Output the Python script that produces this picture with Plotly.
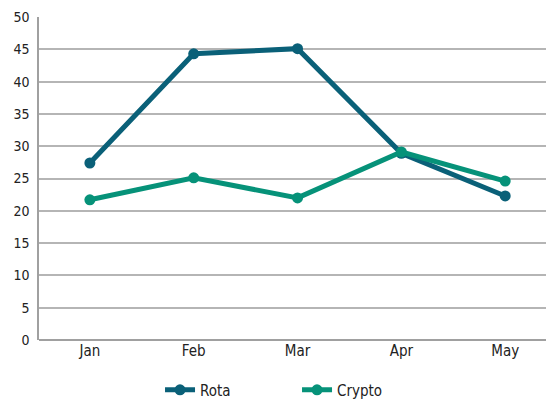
import plotly.graph_objects as go

months = ["Jan", "Feb", "Mar", "Apr", "May"]
rota = [27.4, 44.3, 45.1, 28.9, 22.3]
crypto = [21.7, 25.1, 22.0, 29.1, 24.6]

rota_color = "#0a6078"
crypto_color = "#069279"

fig = go.Figure()
fig.add_trace(go.Scatter(x=months, y=rota, mode="lines+markers", name="Rota",
                         line=dict(color=rota_color, width=5),
                         marker=dict(size=11, color=rota_color)))
fig.add_trace(go.Scatter(x=months, y=crypto, mode="lines+markers", name="Crypto",
                         line=dict(color=crypto_color, width=5),
                         marker=dict(size=11, color=crypto_color)))

# page body has an 8px margin, so the figure is sized to fit inside it
fig.update_layout(
    width=546, height=393,
    margin=dict(l=31, r=0, t=9, b=61, autoexpand=False),
    plot_bgcolor="white", paper_bgcolor="white",
    font=dict(family="DejaVu Sans Condensed, sans-serif", size=15, color="#222"),
    showlegend=True,
    legend=dict(orientation="h", x=0.235, xanchor="left", y=-0.155, yanchor="middle",
                font=dict(size=15), itemwidth=30, tracegroupgap=0,
                entrywidthmode="pixels", entrywidth=92),
    xaxis=dict(showgrid=False, showline=False, ticks="", zeroline=False, ticklen=0,
               range=[-0.49, 4.47], tickfont=dict(size=15)),
    yaxis=dict(range=[0, 50], dtick=5, showgrid=True, gridcolor="#b5b5b5", gridwidth=1.5,
               showline=True, linecolor="#a0a0a0", linewidth=1.5, zeroline=True,
               zerolinecolor="#a0a0a0", zerolinewidth=1.5, ticks="", ticklabelstandoff=5,
               tickfont=dict(size=14)),
)

fig.write_html("out.html")
